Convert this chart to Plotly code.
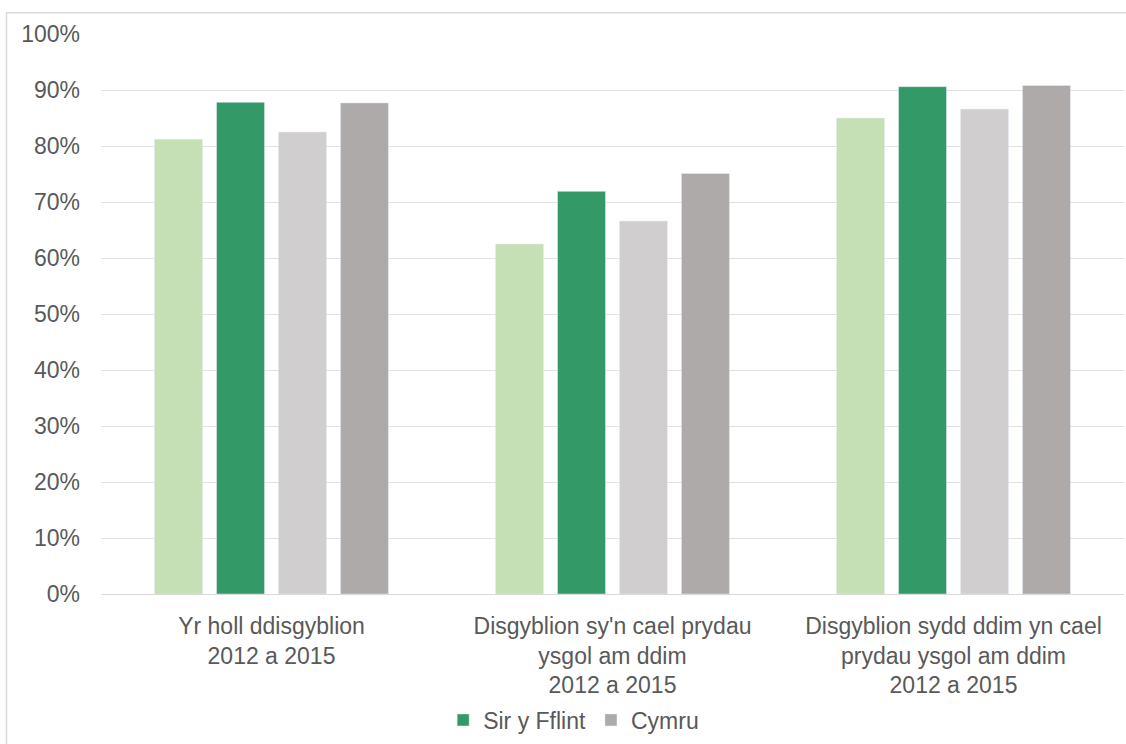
import plotly.graph_objects as go

categories = [
    "Yr holl ddisgyblion<br>2012 a 2015",
    "Disgyblion sy'n cael prydau<br>ysgol am ddim<br>2012 a 2015",
    "Disgyblion sydd ddim yn cael<br>prydau ysgol am ddim<br>2012 a 2015",
]
flint_2012 = [0.812, 0.625, 0.850]
flint_2015 = [0.878, 0.719, 0.906]
wales_2012 = [0.825, 0.666, 0.866]
wales_2015 = [0.877, 0.751, 0.908]
y_ticks = [0, 0.1, 0.2, 0.3, 0.4, 0.5, 0.6, 0.7, 0.8, 0.9, 1.0]

TEXT = "#595959"
FONT = "Liberation Sans, Arial, sans-serif"

fig = go.Figure()
fig.add_bar(x=categories, y=flint_2012, name="Sir y Fflint 2012",
            marker_color="#C5E0B4", showlegend=False)
fig.add_bar(x=categories, y=flint_2015, name="Sir y Fflint",
            marker_color="#339966")
fig.add_bar(x=categories, y=wales_2012, name="Cymru 2012",
            marker_color="#D0CECE", showlegend=False)
fig.add_bar(x=categories, y=wales_2015, name="Cymru",
            marker_color="#AEAAAA")

fig.update_layout(
    width=1126, height=744,
    margin=dict(l=101, r=2, t=34, b=144),
    paper_bgcolor="white", plot_bgcolor="white",
    barmode="group", bargap=0.273, bargroupgap=0.226,
    font=dict(family=FONT, size=23, color=TEXT),
    legend=dict(orientation="h", x=0.462, xanchor="center",
                y=-0.225, yanchor="middle",
                font=dict(size=23, color=TEXT), itemwidth=30),
    shapes=[dict(type="rect", xref="paper", yref="paper",
                 x0=-0.0924, x1=1.05, y0=-0.4, y1=1.038,
                 line=dict(color="#D9D9D9", width=1.5), layer="below")],
)
fig.update_yaxes(range=[0, 1.0], tickvals=y_ticks, tickformat=".0%",
                 showgrid=True, gridcolor="#E1E1E1", gridwidth=1,
                 zeroline=False, showline=False, ticks="",
                 ticklabelstandoff=20, automargin=False,
                 tickfont=dict(size=23, color=TEXT))
fig.update_xaxes(showline=True, linecolor="#D9D9D9", linewidth=1,
                 ticks="", ticklabelstandoff=11, automargin=False,
                 tickfont=dict(size=23, color=TEXT))

fig.write_html("out.html",
               config={"displayModeBar": False},
               post_script="document.body.style.margin='0';"
                           "document.body.style.overflow='hidden';")
